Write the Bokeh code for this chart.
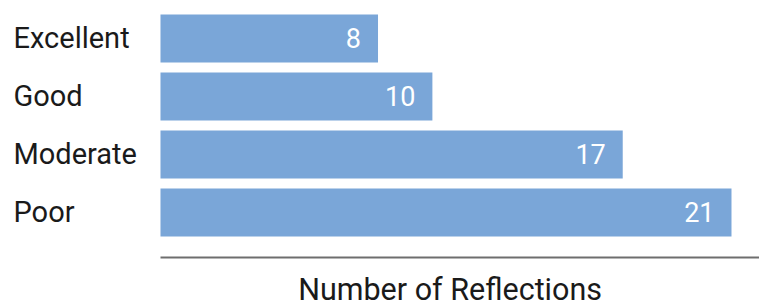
from bokeh.plotting import figure
from bokeh.models import ColumnDataSource, Range1d, LinearAxis, FixedTicker
from bokeh.core.properties import value
from bokeh.embed import file_html
from bokeh.resources import INLINE

categories = ["Excellent", "Good", "Moderate", "Poor"]
counts = [8, 10, 17, 21]
x_label = "Number of Reflections"

n = len(categories)
ypos = [n - 1 - i for i in range(n)]
src = ColumnDataSource(dict(
    cat=categories,
    count=counts,
    y=ypos,
    zero=[0] * n,
    txt=[str(c) for c in counts],
))

FONT = value("Roboto")
X_START, X_END = -5.884, 22.03
Y_START, Y_END = -1.552, 3.655
AXIS_Y = -0.776
TITLE_X, TITLE_Y = 10.65, -1.33

p = figure(width=759, height=302, output_backend="svg", toolbar_location=None,
           x_range=Range1d(X_START, X_END), y_range=Range1d(Y_START, Y_END),
           x_axis_location=None, y_axis_location=None,
           min_border_left=0, min_border_right=0, min_border_top=0,
           min_border_bottom=0)
p.outline_line_color = None
p.grid.visible = False
p.background_fill_color = "white"
p.border_fill_color = "white"

ax = LinearAxis(ticker=FixedTicker(ticks=[]), bounds=(0, X_END),
                fixed_location=AXIS_Y,
                axis_line_color="#6e6e6e", axis_line_width=2,
                major_tick_line_color=None, minor_tick_line_color=None,
                major_tick_out=0, major_tick_in=0,
                major_label_text_font_size="0px")
p.add_layout(ax, "below")

p.hbar(y="y", left=0, right="count", height=0.83, source=src,
       fill_color="#7aa6d8", line_color=None)

p.text(x="count", y="y", text="txt", source=src, x_offset=-17,
       text_align="right", text_baseline="middle", text_color="white",
       text_font=FONT, text_font_size="27px")

p.text(x="zero", y="y", text="cat", source=src, x_offset=-147,
       text_align="left", text_baseline="middle", text_color="#1a1a1a",
       text_font=FONT, text_font_size="29px")

p.text(x=[TITLE_X], y=[TITLE_Y], text=[x_label],
       text_align="center", text_baseline="middle", text_color="#1a1a1a",
       text_font=FONT, text_font_size="30.5px")

open("out.html", "w").write(file_html(p, INLINE))
